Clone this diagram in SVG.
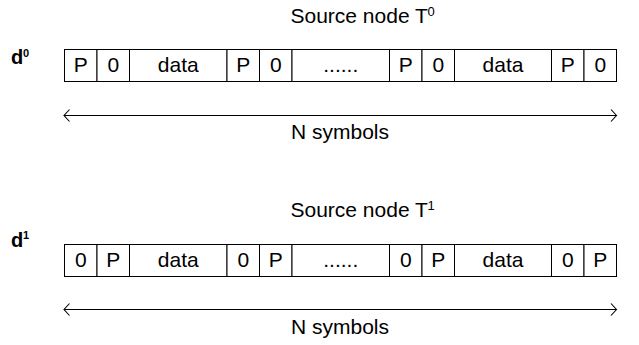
<svg xmlns="http://www.w3.org/2000/svg" width="639" height="345" viewBox="0 0 639 345">
<style>
text{font-family:"Liberation Sans",Arial,sans-serif;fill:#000}
.t{font-size:21px}
.c{font-size:21px;text-anchor:middle}
.lab{font-size:20px;font-weight:bold}
.sup{font-size:11px;font-weight:bold}
.tsup{font-size:13px}
rect{fill:#fff;stroke:#000;stroke-width:1}
.arr{stroke:#000;stroke-width:1;fill:none;marker-start:url(#ah);marker-end:url(#ah)}
</style>
<defs>
<marker id="ah" markerUnits="userSpaceOnUse" markerWidth="14" markerHeight="16" refX="0" refY="0" viewBox="-7 -8 14 16" orient="auto-start-reverse" overflow="visible">
<path d="M-5.5,-6 L0,0 L-5.5,6" fill="none" stroke="#000" stroke-width="1.1"/>
</marker>
</defs>

<g id="title0"><text class="t" x="290.5" y="22.5">Source node T</text><text class="tsup" x="427.5" y="16">0</text></g>
<g id="label-d0"><text class="lab" x="11" y="64">d</text><text class="sup" x="23" y="56.5">0</text></g>

<g id="row0">
<g id="r0c1"><rect x="64.5" y="49.5" width="32.5" height="32"/><text class="c" x="80.75" y="72">P</text></g>
<g id="r0c2"><rect x="97" y="49.5" width="32.5" height="32"/><text class="c" x="113.25" y="72">0</text></g>
<g id="r0c3"><rect x="129.5" y="49.5" width="97.5" height="32"/><text class="c" x="178.25" y="72">data</text></g>
<g id="r0c4"><rect x="227" y="49.5" width="32.5" height="32"/><text class="c" x="243.25" y="72">P</text></g>
<g id="r0c5"><rect x="259.5" y="49.5" width="32.5" height="32"/><text class="c" x="275.75" y="72">0</text></g>
<g id="r0c6"><rect x="292" y="49.5" width="97.5" height="32"/><text class="c" x="340.75" y="72">......</text></g>
<g id="r0c7"><rect x="389.5" y="49.5" width="32.5" height="32"/><text class="c" x="405.75" y="72">P</text></g>
<g id="r0c8"><rect x="422" y="49.5" width="32.5" height="32"/><text class="c" x="438.25" y="72">0</text></g>
<g id="r0c9"><rect x="454.5" y="49.5" width="97" height="32"/><text class="c" x="503" y="72">data</text></g>
<g id="r0c10"><rect x="551.5" y="49.5" width="32.5" height="32"/><text class="c" x="567.75" y="72">P</text></g>
<g id="r0c11"><rect x="584" y="49.5" width="32.5" height="32"/><text class="c" x="600.25" y="72">0</text></g>
</g>
<g id="nsym0"><text class="c" x="340" y="138.5">N symbols</text></g>

<g id="title1"><text class="t" x="290.5" y="216.5">Source node T</text><text class="tsup" x="427.5" y="210">1</text></g>
<g id="label-d1"><text class="lab" x="11" y="246.5">d</text><text class="sup" x="23" y="239">1</text></g>

<g id="row1">
<g id="r1c1"><rect x="64.5" y="244.5" width="32.5" height="32"/><text class="c" x="80.75" y="266.5">0</text></g>
<g id="r1c2"><rect x="97" y="244.5" width="32.5" height="32"/><text class="c" x="113.25" y="266.5">P</text></g>
<g id="r1c3"><rect x="129.5" y="244.5" width="97.5" height="32"/><text class="c" x="178.25" y="266.5">data</text></g>
<g id="r1c4"><rect x="227" y="244.5" width="32.5" height="32"/><text class="c" x="243.25" y="266.5">0</text></g>
<g id="r1c5"><rect x="259.5" y="244.5" width="32.5" height="32"/><text class="c" x="275.75" y="266.5">P</text></g>
<g id="r1c6"><rect x="292" y="244.5" width="97.5" height="32"/><text class="c" x="340.75" y="266.5">......</text></g>
<g id="r1c7"><rect x="389.5" y="244.5" width="32.5" height="32"/><text class="c" x="405.75" y="266.5">0</text></g>
<g id="r1c8"><rect x="422" y="244.5" width="32.5" height="32"/><text class="c" x="438.25" y="266.5">P</text></g>
<g id="r1c9"><rect x="454.5" y="244.5" width="97" height="32"/><text class="c" x="503" y="266.5">data</text></g>
<g id="r1c10"><rect x="551.5" y="244.5" width="32.5" height="32"/><text class="c" x="567.75" y="266.5">0</text></g>
<g id="r1c11"><rect x="584" y="244.5" width="32.5" height="32"/><text class="c" x="600.25" y="266.5">P</text></g>
</g>
<g id="nsym1"><text class="c" x="340" y="333.5">N symbols</text></g>

<g id="connectors">
<line class="arr" x1="64" y1="115.5" x2="616.5" y2="115.5"/>
<line class="arr" x1="64" y1="309.5" x2="616.5" y2="309.5"/>
</g>
</svg>
